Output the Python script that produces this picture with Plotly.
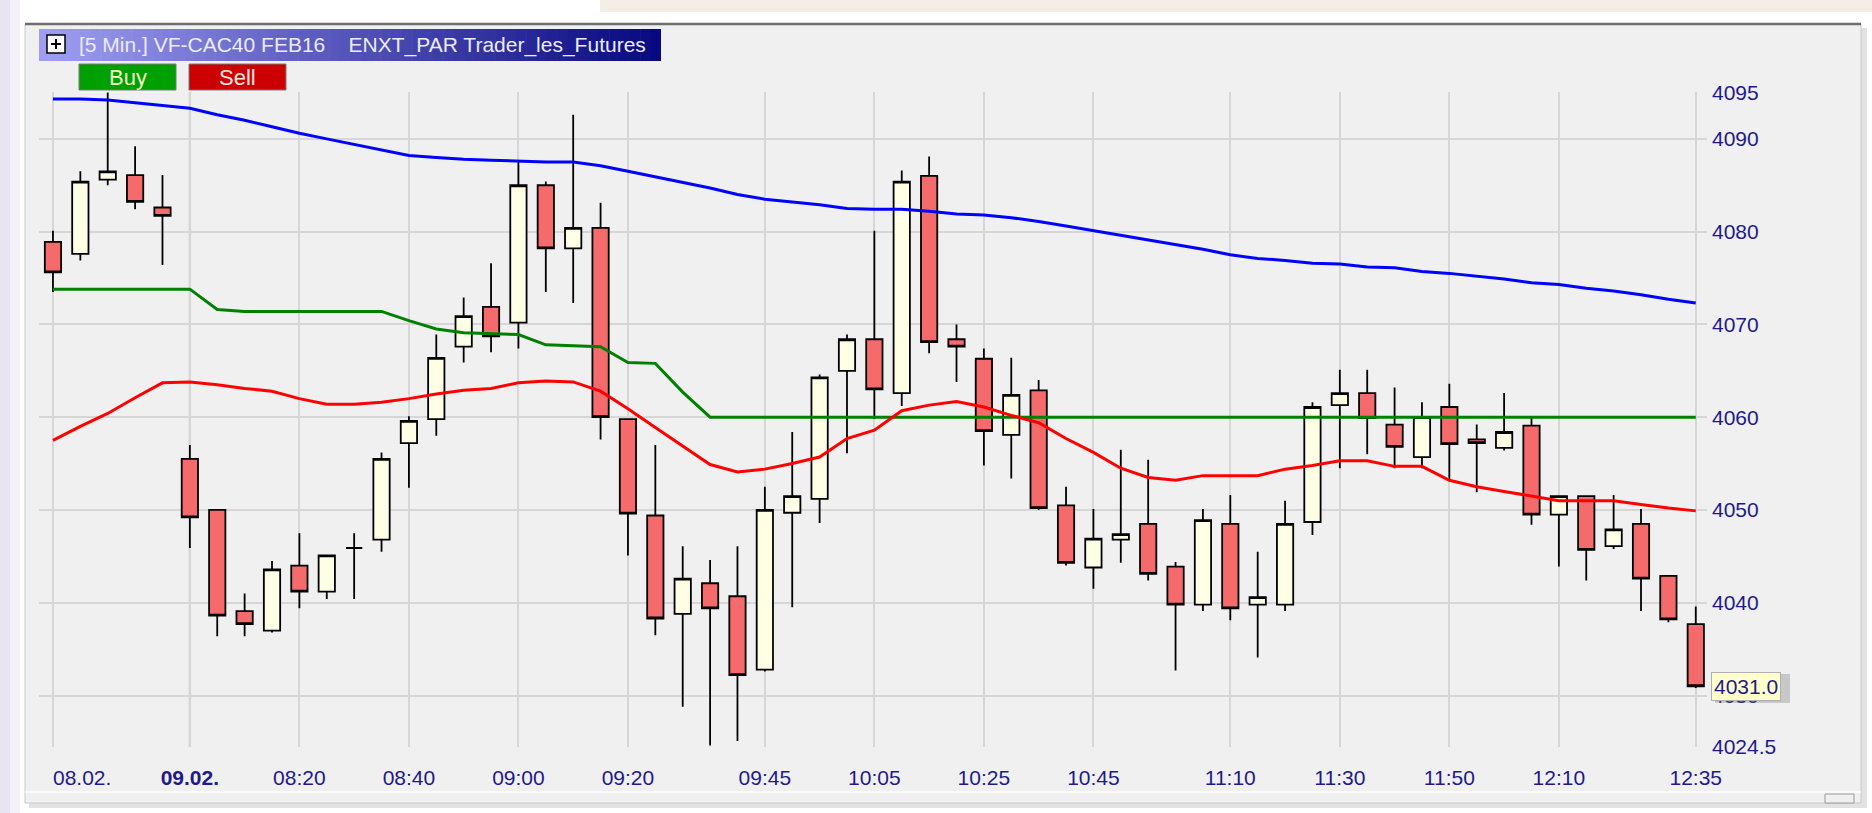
import pandas as pd
import plotly.graph_objects as go

# ---------------- data ----------------
prev_day = "08.02."
cur_day = "09.02."
prev_times = ["21:35", "21:40", "21:45", "21:50", "21:55"]
day_times = list(pd.date_range("2016-02-09 08:00", "2016-02-09 12:35", freq="5min").strftime("%H:%M"))
bars = [f"{prev_day} {t}" for t in prev_times] + [f"{cur_day} {t}" for t in day_times]

opens = [4078.9, 4077.6, 4085.6, 4086.1, 4082.6,
         4055.5, 4050.0, 4039.1, 4037.0, 4044.0, 4041.2, 4045.9, 4046.8, 4057.2, 4059.8,
         4067.6, 4071.9, 4070.2, 4085.0, 4078.2, 4080.4, 4059.8, 4049.4, 4038.8, 4042.1,
         4040.7, 4032.8, 4049.7, 4051.2, 4065.0, 4068.4, 4062.6, 4086.0, 4068.4, 4066.3,
         4058.1, 4062.9, 4050.5, 4043.8, 4046.8, 4048.5, 4043.9, 4039.8, 4048.5, 4039.8,
         4039.8, 4048.7, 4061.3, 4062.6, 4059.2, 4055.7, 4061.1, 4057.6, 4056.7, 4059.1,
         4049.5, 4051.5, 4046.1, 4048.5, 4042.9, 4037.7]
highs = [4080.1, 4086.5, 4095.0, 4089.2, 4086.1,
         4057.0, 4050.0, 4041.0, 4044.5, 4047.5, 4045.1, 4047.5, 4056.2, 4060.1, 4068.9,
         4072.9, 4076.6, 4087.5, 4085.4, 4092.6, 4083.1, 4059.8, 4057.0, 4046.1, 4044.6,
         4046.1, 4052.5, 4058.4, 4064.6, 4068.9, 4080.1, 4086.6, 4088.1, 4070.0, 4067.4,
         4066.4, 4064.0, 4052.5, 4050.1, 4056.5, 4055.4, 4044.4, 4050.1, 4051.6, 4045.5,
         4051.0, 4061.6, 4065.1, 4065.1, 4063.2, 4061.6, 4063.6, 4059.2, 4062.6, 4059.9,
         4051.5, 4051.5, 4051.6, 4050.1, 4042.9, 4039.6]
lows = [4073.5, 4076.9, 4085.0, 4082.4, 4076.4,
        4045.9, 4036.4, 4036.4, 4036.8, 4039.4, 4040.4, 4040.4, 4045.5, 4052.4, 4058.0,
        4065.9, 4067.0, 4067.4, 4073.5, 4072.3, 4057.6, 4045.1, 4036.5, 4028.8, 4024.6,
        4025.1, 4032.6, 4039.5, 4048.6, 4056.1, 4059.8, 4061.2, 4066.9, 4063.8, 4054.8,
        4053.4, 4050.0, 4044.0, 4041.5, 4044.3, 4042.4, 4032.7, 4039.1, 4038.1, 4034.1,
        4039.1, 4047.3, 4054.5, 4056.0, 4054.5, 4054.5, 4053.3, 4051.9, 4056.4, 4048.4,
        4043.9, 4042.4, 4045.8, 4039.1, 4037.9, 4030.8]
closes = [4075.6, 4085.4, 4086.5, 4083.2, 4081.7,
          4049.2, 4038.6, 4037.7, 4043.6, 4041.2, 4045.1, 4045.9, 4055.5, 4059.6, 4066.4,
          4070.9, 4068.7, 4085.0, 4078.2, 4080.4, 4060.0, 4049.6, 4038.3, 4042.6, 4039.4,
          4032.2, 4050.0, 4051.5, 4064.3, 4068.4, 4063.0, 4085.4, 4068.1, 4067.6, 4058.5,
          4062.4, 4050.2, 4044.3, 4046.9, 4047.4, 4043.1, 4039.8, 4048.9, 4039.4, 4040.6,
          4048.5, 4061.1, 4062.6, 4059.9, 4056.8, 4060.0, 4057.1, 4057.2, 4058.4, 4049.5,
          4051.5, 4045.7, 4047.9, 4042.6, 4038.2, 4031.0]

blue_line = [4094.3, 4094.3, 4094.2, 4093.9, 4093.6,
             4093.3, 4092.6, 4092.0, 4091.3, 4090.6, 4090.0, 4089.4, 4088.8, 4088.2, 4088.0,
             4087.8, 4087.7, 4087.6, 4087.5, 4087.5, 4087.1, 4086.5, 4085.9, 4085.3, 4084.7,
             4084.0, 4083.5, 4083.2, 4082.9, 4082.5, 4082.4, 4082.4, 4082.2, 4081.9, 4081.8,
             4081.5, 4081.1, 4080.6, 4080.1, 4079.6, 4079.1, 4078.6, 4078.1, 4077.5, 4077.1,
             4076.9, 4076.6, 4076.5, 4076.2, 4076.1, 4075.7, 4075.5, 4075.2, 4074.9, 4074.5,
             4074.3, 4073.9, 4073.6, 4073.2, 4072.7, 4072.3]
green_line = [4073.8, 4073.8, 4073.8, 4073.8, 4073.8,
              4073.8, 4071.6, 4071.4, 4071.4, 4071.4, 4071.4, 4071.4, 4071.4, 4070.4, 4069.5,
              4069.1, 4069.0, 4068.9, 4067.8, 4067.7, 4067.6, 4065.9, 4065.8, 4062.7, 4060.0,
              4060.0, 4060.0, 4060.0, 4060.0, 4060.0, 4060.0, 4060.0, 4060.0, 4060.0, 4060.0,
              4060.0, 4060.0, 4060.0, 4060.0, 4060.0, 4060.0, 4060.0, 4060.0, 4060.0, 4060.0,
              4060.0, 4060.0, 4060.0, 4060.0, 4060.0, 4060.0, 4060.0, 4060.0, 4060.0, 4060.0,
              4060.0, 4060.0, 4060.0, 4060.0, 4060.0, 4060.0]
red_line = [4057.5, 4059.0, 4060.4, 4062.1, 4063.7,
            4063.8, 4063.5, 4063.1, 4062.8, 4062.0, 4061.4, 4061.4, 4061.6, 4062.0, 4062.5,
            4062.9, 4063.1, 4063.7, 4063.9, 4063.8, 4062.8, 4060.9, 4058.9, 4056.9, 4054.9,
            4054.1, 4054.4, 4055.0, 4055.7, 4057.7, 4058.6, 4060.7, 4061.3, 4061.7, 4061.1,
            4060.2, 4059.4, 4057.7, 4056.2, 4054.5, 4053.5, 4053.2, 4053.7, 4053.7, 4053.7,
            4054.4, 4054.8, 4055.3, 4055.3, 4054.7, 4054.7, 4053.2, 4052.5, 4052.0, 4051.5,
            4051.0, 4051.0, 4051.0, 4050.6, 4050.2, 4049.9]

x_tick_bars = [f"{cur_day} {t}" for t in ["08:00", "08:20", "08:40", "09:00", "09:20", "09:45",
                                          "10:05", "10:25", "10:45", "11:10", "11:30", "11:50",
                                          "12:10", "12:35"]]
x_tick_text = ["<b>09.02.</b>", "08:20", "08:40", "09:00", "09:20", "09:45", "10:05", "10:25",
               "10:45", "11:10", "11:30", "11:50", "12:10", "12:35"]
y_ticks = [4095, 4090, 4080, 4070, 4060, 4050, 4040, 4030, 4024.5]
y_tick_text = ["4095", "4090", "4080", "4070", "4060", "4050", "4040", "4030", "4024.5"]
last_price_label = "4031.0"
title_text = "[5 Min.] VF-CAC40 FEB16\u00a0\u00a0\u00a0\u00a0ENXT_PAR Trader_les_Futures"

# ---------------- layout geometry (pixels) ----------------
W_FIG, H_FIG = 1872, 813
L, R, T, B = 39, 1707, 92, 747
PW, PH = R - L, B - T


def px(x):
    return (x - L) / PW


def py(y):
    return (B - y) / PH


LABEL_COLOR = "#1e1a8a"
SANS = "Liberation Sans, Arial, sans-serif"

fig = go.Figure()

fig.add_trace(go.Scatter(x=bars, y=blue_line, mode="lines", line=dict(color="#0000ff", width=3),
                         hoverinfo="skip", showlegend=False))
fig.add_trace(go.Scatter(x=bars, y=green_line, mode="lines", line=dict(color="#008000", width=3),
                         hoverinfo="skip", showlegend=False))
fig.add_trace(go.Scatter(x=bars, y=red_line, mode="lines", line=dict(color="#ff0000", width=3),
                         hoverinfo="skip", showlegend=False))
fig.add_trace(go.Candlestick(
    x=bars, open=opens, high=highs, low=lows, close=closes,
    increasing=dict(fillcolor="#ffffe6", line=dict(color="#000000", width=1.8)),
    decreasing=dict(fillcolor="#f56b6b", line=dict(color="#000000", width=1.8)),
    whiskerwidth=0, hoverinfo="skip", showlegend=False))

shapes = []
# outer decorations
shapes.append(dict(type="rect", xref="paper", yref="paper", x0=px(0), x1=px(10), y0=py(0), y1=py(813),
                   fillcolor="#e9e4f1", line=dict(width=0), layer="below"))
shapes.append(dict(type="rect", xref="paper", yref="paper", x0=px(10), x1=px(20), y0=py(0), y1=py(813),
                   fillcolor="#f4f2f8", line=dict(width=0), layer="below"))
shapes.append(dict(type="rect", xref="paper", yref="paper", x0=px(600), x1=px(1872), y0=py(0), y1=py(12),
                   fillcolor="#f4eee7", line=dict(width=0), layer="below"))
# window shadow + window
shapes.append(dict(type="rect", xref="paper", yref="paper", x0=px(29), x1=px(1867), y0=py(28), y1=py(808),
                   fillcolor="#e2e2e2", line=dict(width=0), layer="below"))
shapes.append(dict(type="rect", xref="paper", yref="paper", x0=px(25), x1=px(1861), y0=py(24), y1=py(803),
                   fillcolor="#f0f0f0", line=dict(color="#c8c8c8", width=1), layer="below"))
shapes.append(dict(type="line", xref="paper", yref="paper", x0=px(25), x1=px(1861), y0=py(24), y1=py(24),
                   line=dict(color="#6e6e6e", width=2.5), layer="below"))
shapes.append(dict(type="line", xref="paper", yref="paper", x0=px(25), x1=px(1861), y0=py(792), y1=py(792),
                   line=dict(color="#fbfbfb", width=2), layer="below"))
shapes.append(dict(type="rect", xref="paper", yref="paper", x0=px(1825), x1=px(1854), y0=py(794), y1=py(803),
                   fillcolor="#f0f0f0", line=dict(color="#9a9a9a", width=1), layer="below"))
# title bar gradient
n_slices = 60
x_start, x_end = 39, 661
c0, c1 = (158, 158, 242), (8, 8, 128)
for k in range(n_slices):
    f = k / (n_slices - 1)
    col = "rgb({},{},{})".format(*[round(a + (b - a) * f) for a, b in zip(c0, c1)])
    xa = x_start + (x_end - x_start) * k / n_slices
    xb = x_start + (x_end - x_start) * (k + 1) / n_slices + 0.6
    shapes.append(dict(type="rect", xref="paper", yref="paper", x0=px(xa), x1=px(min(xb, x_end)),
                       y0=py(29), y1=py(61), fillcolor=col, line=dict(width=0), layer="below"))
# plus icon
shapes.append(dict(type="rect", xref="paper", yref="paper", x0=px(47), x1=px(65), y0=py(35), y1=py(53),
                   fillcolor="#ffffff", line=dict(color="#000000", width=1.5), layer="above"))
shapes.append(dict(type="line", xref="paper", yref="paper", x0=px(51), x1=px(61), y0=py(44), y1=py(44),
                   line=dict(color="#000000", width=2), layer="above"))
shapes.append(dict(type="line", xref="paper", yref="paper", x0=px(56), x1=px(56), y0=py(39), y1=py(49),
                   line=dict(color="#000000", width=2), layer="above"))
# Buy / Sell buttons
shapes.append(dict(type="rect", xref="paper", yref="paper", x0=px(79), x1=px(176), y0=py(64), y1=py(90),
                   fillcolor="#00a000", line=dict(color="#7a7a7a", width=1), layer="below"))
shapes.append(dict(type="rect", xref="paper", yref="paper", x0=px(189), x1=px(286), y0=py(64), y1=py(90),
                   fillcolor="#cc0000", line=dict(color="#7a7a7a", width=1), layer="below"))
# day separator
shapes.append(dict(type="line", xref="x", yref="paper", x0=bars[len(prev_times)], x1=bars[len(prev_times)],
                   y0=0, y1=1, line=dict(color="#a8a8a8", width=2), layer="below"))
# last price tag shadow
shapes.append(dict(type="rect", xref="paper", yref="paper", x0=px(1715), x1=px(1790), y0=py(674), y1=py(703),
                   fillcolor="rgba(110,110,110,0.3)", line=dict(width=0), layer="above"))

annotations = [
    dict(text=title_text, xref="paper", yref="paper", x=px(77), y=py(45), xanchor="left", yanchor="middle",
         showarrow=False, font=dict(family=SANS, size=21, color="#ececff")),
    dict(text="Buy", xref="paper", yref="paper", x=px(127.5), y=py(77), xanchor="center", yanchor="middle",
         showarrow=False, font=dict(family=SANS, size=22, color="#f2f5c8")),
    dict(text="Sell", xref="paper", yref="paper", x=px(237.5), y=py(77), xanchor="center", yanchor="middle",
         showarrow=False, font=dict(family=SANS, size=22, color="#ffe6e6")),
    dict(text=prev_day, xref="x", yref="paper", x=bars[0], y=py(777), xanchor="left", yanchor="middle",
         showarrow=False, xshift=-2, font=dict(family=SANS, size=21, color=LABEL_COLOR)),
    dict(text=last_price_label, xref="paper", yref="y", x=px(1711), y=closes[-1], xanchor="left",
         yanchor="middle", showarrow=False, bgcolor="#ffffcc", bordercolor="#b0b0b0", borderwidth=1,
         borderpad=2, font=dict(family=SANS, size=21, color=LABEL_COLOR)),
]

fig.update_layout(
    width=W_FIG, height=H_FIG,
    margin=dict(l=L, r=W_FIG - R, t=T, b=H_FIG - B, pad=0),
    paper_bgcolor="#ffffff", plot_bgcolor="#f0f0f0",
    showlegend=False, hovermode=False,
    boxgap=0.15,
    shapes=shapes, annotations=annotations,
    xaxis=dict(type="category", categoryorder="array", categoryarray=bars,
               range=[-0.51, len(bars) - 1 + 0.41],
               tickmode="array", tickvals=[bars[0]] + x_tick_bars, ticktext=[""] + x_tick_text,
               showgrid=True, gridcolor="#d6d6d6", gridwidth=2, zeroline=False, showline=False,
               ticks="", ticklabelstandoff=16, rangeslider=dict(visible=False),
               tickfont=dict(family=SANS, size=21, color=LABEL_COLOR)),
    yaxis=dict(side="right", range=[4024.45, 4095.05], tickmode="array", tickvals=y_ticks,
               ticktext=y_tick_text, showgrid=True, gridcolor="#d6d6d6", gridwidth=2,
               zeroline=False, showline=False, ticks="", ticklabelstandoff=4,
               tickfont=dict(family=SANS, size=21, color=LABEL_COLOR)),
)

fig.write_html("out.html", config={"displayModeBar": False},
               post_script="document.body.style.margin='0px';document.body.style.overflow='hidden';")
